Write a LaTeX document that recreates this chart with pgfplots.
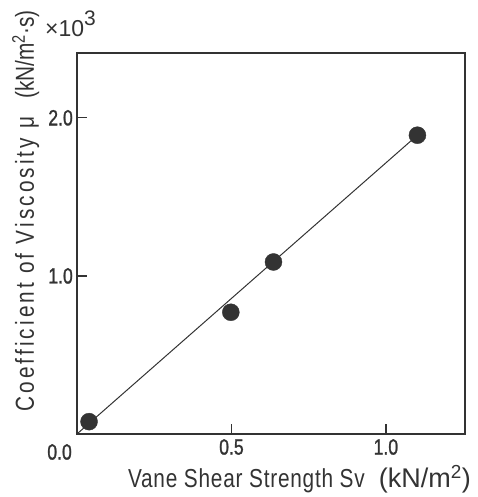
\documentclass[border=0pt]{standalone}
\usepackage{pgfplots}
\pgfplotsset{compat=1.18}
\usepackage{fontspec}
\setmainfont[FakeStretch=0.8]{Liberation Sans}
\newfontfamily\tickfont[FakeStretch=0.8, FakeBold=1.2]{Liberation Sans}
\newfontfamily\xlblfont[FakeStretch=0.8, LetterSpace=3]{Liberation Sans}
\newfontfamily\ylblfont[FakeStretch=0.8, LetterSpace=12]{Liberation Sans}
\newfontfamily\unitfont{Liberation Sans}
\definecolor{ink}{HTML}{333333}
\begin{document}
\begin{tikzpicture}
\begin{axis}[
  scale only axis, width=388pt, height=381pt,
  xmin=0, xmax=1.256, ymin=0, ymax=2.41,
  axis line style={ink, line width=1.8pt},
  xtick={0.5,1.0}, ytick={1.0,2.0},
  xticklabels={0.5,1.0}, yticklabels={1.0,2.0},
  tick align=inside, major tick length=10pt,
  every tick/.style={ink, line width=1.3pt},
  xtick pos=bottom, ytick pos=left,
  tick label style={font=\tickfont\fontsize{22}{22}\selectfont, text=ink},
  xticklabel style={inner sep=5pt},
  yticklabel style={inner sep=4pt},
  xlabel={{\xlblfont Vane Shear Strength Sv}\hspace{14pt}{\unitfont\fontsize{27}{27}\selectfont (kN/m\textsuperscript{2})}},
  xlabel style={at={(rel axis cs:0.131,0)}, anchor=base west, yshift=-54pt,
    font=\fontsize{26}{26}\selectfont, text=ink, inner sep=0pt},
  ylabel={{\ylblfont Coefficient of Viscosity μ}\hspace{18pt}(kN/m\textsuperscript{2}·s)},
  ylabel style={at={(rel axis cs:-0.111,0.058)}, anchor=base west,
    font=\fontsize{26}{26}\selectfont, text=ink, inner sep=0pt},
  clip=false,
]
\addplot[ink, line width=1pt] coordinates {(0,0) (1.102,1.89)};
\addplot[only marks, mark=*, mark size=8.5pt, mark options={fill=ink, draw=ink}]
  coordinates {(0.039,0.078) (0.498,0.77) (0.636,1.088) (1.102,1.89)};
\node[anchor=north east, font=\tickfont\fontsize{22}{22}\selectfont, text=ink, inner sep=0pt]
  at (rel axis cs:0,0) [xshift=-5pt, yshift=-10pt] {0.0};
\node[anchor=base west, font=\unitfont\fontsize{23}{23}\selectfont, text=ink, inner sep=0pt]
  at (rel axis cs:-0.0825,1.042) {×10\raisebox{0.5em}{\fontsize{21}{21}\selectfont 3}};
\coordinate (bbl) at (rel axis cs:-0.19845,-0.1654);
\coordinate (btr) at (rel axis cs:1.0335,1.1391);
\end{axis}
\pgfresetboundingbox
\useasboundingbox (bbl) rectangle (btr);
\end{tikzpicture}
\end{document}
